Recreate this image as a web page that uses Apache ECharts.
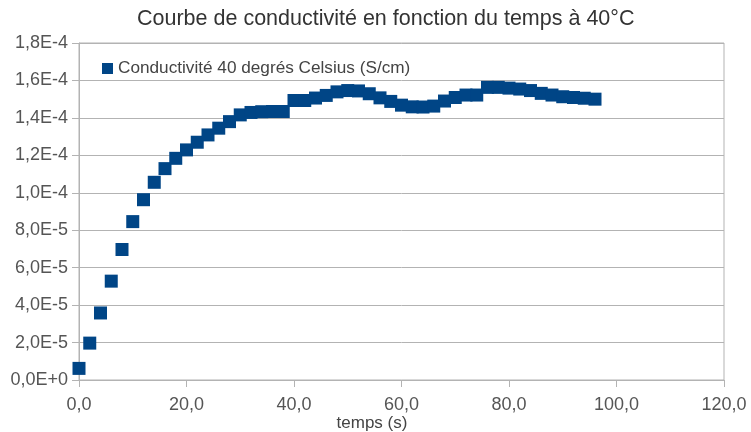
<!DOCTYPE html>
<html>
<head>
<meta charset="utf-8">
<script src="https://cdn.jsdelivr.net/npm/echarts@6/dist/echarts.min.js"></script>
<style>html,body{margin:0;padding:0;background:#fff}#c{width:751px;height:432px}</style>
</head>
<body>
<div id="c"></div>
<script>
const chartTitle = "Courbe de conductivité en fonction du temps à 40°C";
const seriesName = "Conductivité 40 degrés Celsius (S/cm)";
const xAxisName = "temps (s)";
const times = [0,2,4,6,8,10,12,14,16,18,20,22,24,26,28,30,32,34,36,38,40,42,44,46,48,50,52,54,56,58,60,62,64,66,68,70,72,74,76,78,80,82,84,86,88,90,92,94,96];
const conductivity = [
  6.2e-6, 19.7e-6, 35.8e-6, 52.8e-6, 69.7e-6, 84.6e-6, 96.3e-6, 105.6e-6, 112.9e-6, 118.4e-6,
  122.9e-6, 127.0e-6, 130.9e-6, 134.5e-6, 138.0e-6, 141.6e-6, 142.9e-6, 143.3e-6, 143.4e-6, 143.4e-6,
  149.3e-6, 149.3e-6, 150.6e-6, 152.0e-6, 153.9e-6, 154.6e-6, 154.4e-6, 152.9e-6, 150.7e-6, 148.8e-6,
  146.8e-6, 145.9e-6, 145.8e-6, 146.3e-6, 149.0e-6, 150.9e-6, 152.2e-6, 152.2e-6, 156.3e-6, 156.3e-6,
  155.9e-6, 155.4e-6, 154.6e-6, 153.1e-6, 152.2e-6, 151.3e-6, 150.9e-6, 150.5e-6, 150.0e-6
];
const yMin = 0, yMax = 1.8e-4, yStep = 2e-5;
const xMin = 0, xMax = 120, xStep = 20;

function sci(v) {
  if (Math.abs(v) < 1e-12) return "0,0E+0";
  let e = Math.floor(Math.log10(Math.abs(v)) + 1e-9);
  let m = v / Math.pow(10, e);
  if (Math.round(m * 10) / 10 >= 10) { e += 1; m = v / Math.pow(10, e); }
  return m.toFixed(1).replace('.', ',') + 'E' + (e >= 0 ? '+' + e : e);
}

const data = times.map((t, i) => [t, conductivity[i]]);
const gridCol = '#b3b3b3';
const chart = echarts.init(document.getElementById('c'), null, {renderer: 'canvas'});
chart.setOption({
  animation: false,
  backgroundColor: '#ffffff',
  title: {
    text: chartTitle,
    left: 137,
    top: 8,
    padding: 0,
    textStyle: {fontFamily: 'Liberation Sans', fontSize: 21.5, fontWeight: 'normal', color: '#333333'}
  },
  legend: {
    left: 102,
    top: 60,
    padding: 0,
    itemWidth: 11,
    itemHeight: 11,
    itemGap: 4,
    icon: 'rect',
    textStyle: {fontFamily: 'Liberation Sans', fontSize: 17.2, color: '#444444'},
    data: [seriesName]
  },
  grid: {left: 79, right: 27, top: 43, bottom: 52, containLabel: false, outerBoundsMode: 'none',
         show: true, borderColor: gridCol, borderWidth: 1},
  xAxis: {
    type: 'value',
    min: xMin, max: xMax, interval: xStep,
    name: xAxisName,
    nameLocation: 'middle',
    nameGap: 35,
    nameMoveOverlap: false,
    nameTextStyle: {fontFamily: 'Liberation Sans', fontSize: 17, color: '#444444', padding: [0, 59, 0, 0]},
    axisLine: {show: true, lineStyle: {color: gridCol}},
    axisTick: {show: true, length: 7, lineStyle: {color: gridCol}},
    splitLine: {show: false},
    axisLabel: {
      fontFamily: 'Liberation Sans', fontSize: 18, color: '#555555', margin: 16,
      formatter: v => v.toFixed(1).replace('.', ',')
    }
  },
  yAxis: {
    type: 'value',
    min: yMin, max: yMax, interval: yStep,
    axisLine: {show: true, lineStyle: {color: gridCol}},
    axisTick: {show: true, length: 7, lineStyle: {color: gridCol}},
    splitLine: {show: true, lineStyle: {color: gridCol, width: 1}},
    axisLabel: {
      fontFamily: 'Liberation Sans', fontSize: 18, color: '#555555', margin: 11,
      formatter: v => sci(v)
    }
  },
  series: [{
    name: seriesName,
    type: 'scatter',
    symbol: 'rect',
    symbolSize: 13,
    itemStyle: {color: '#004586', opacity: 1},
    data: data
  }]
});
</script>
</body>
</html>
